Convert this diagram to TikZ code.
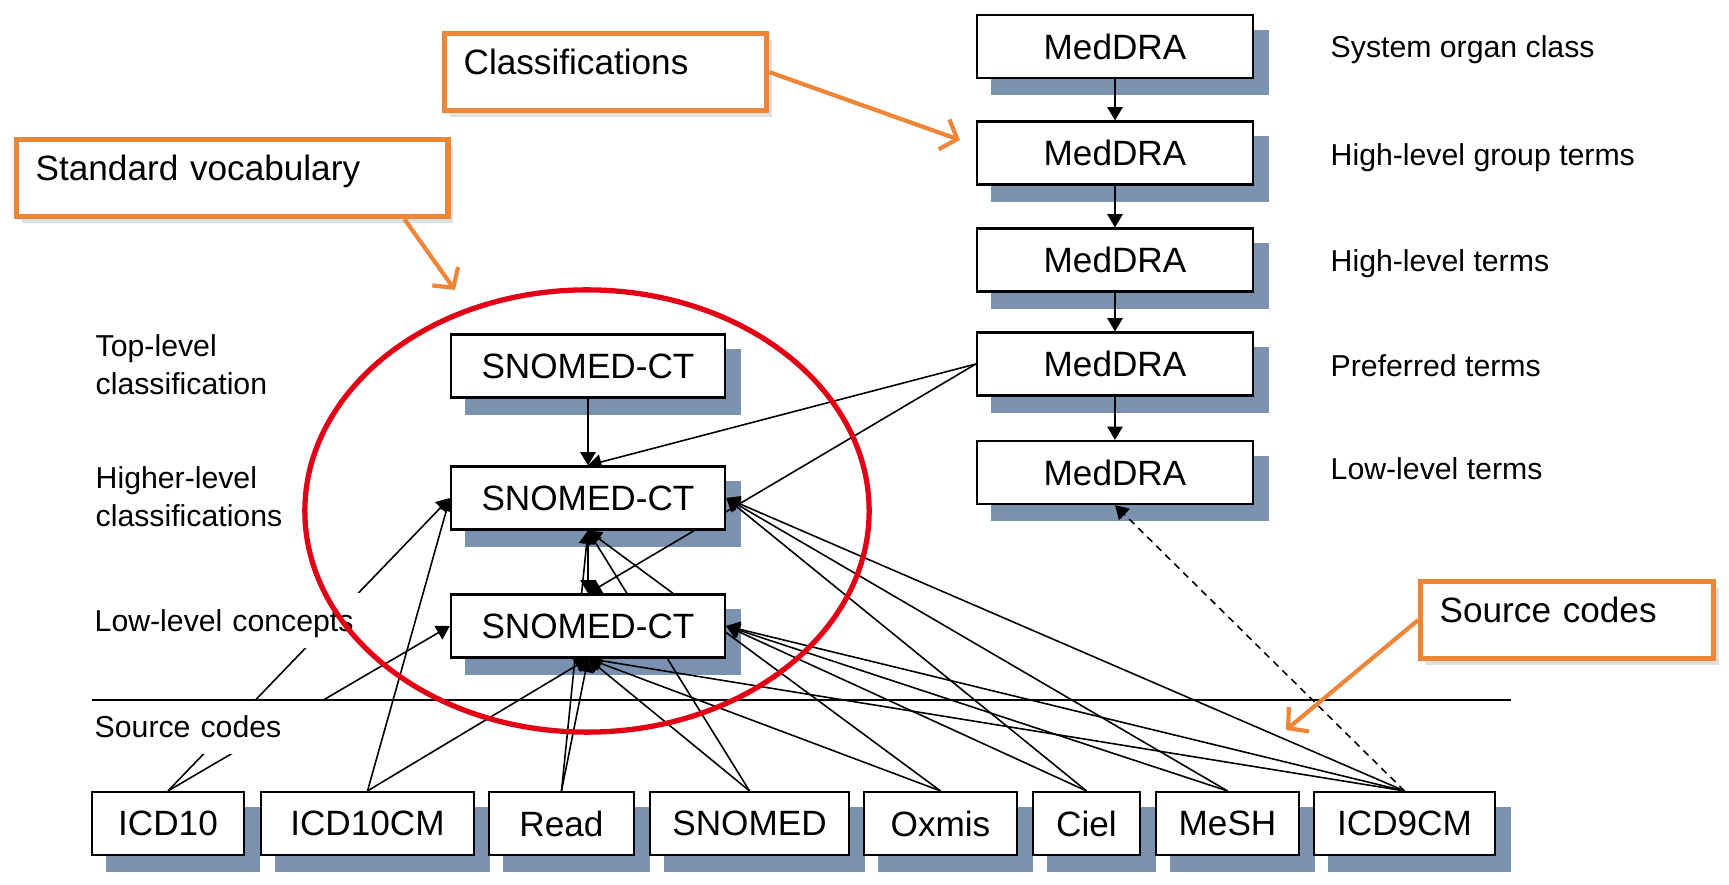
\documentclass[tikz,border=0pt]{standalone}
\usepackage{fontspec}
\setmainfont{Liberation Sans}
\usetikzlibrary{arrows.meta,shadows}
\definecolor{shadeC}{RGB}{122,145,175}
\definecolor{orangeC}{RGB}{239,133,54}
\definecolor{redC}{RGB}{228,0,20}
\pgfdeclarelayer{shade}
\pgfdeclarelayer{wires}
\pgfsetlayers{shade,wires,main}
\begin{document}
\begin{tikzpicture}[x=0.01cm,y=-0.01cm,
  box/.style={draw,line width=0.6pt,fill=white,inner sep=0pt,minimum height=0.63cm,font=\fontsize{10}{12}\selectfont},
  lab/.style={anchor=base west,align=left,inner sep=0pt,font=\fontsize{8.6}{10.9}\selectfont},
  mask/.style={fill=white,text height=0.38cm,text depth=0.17cm,text width=2.75cm},
  link/.style={line width=0.45pt,-{Triangle[length=3.8pt,width=4.4pt]}},
  callout/.style={draw=orangeC,line width=1.5pt,fill=white,anchor=north west,align=left,
    inner xsep=0.19cm,inner ysep=0.05cm,text height=0.36cm,text depth=0.31cm,
    font=\fontsize{10}{12}\selectfont,
    drop shadow={shadow xshift=0.05cm,shadow yshift=-0.06cm,opacity=0.25}},
  callarrow/.style={draw=orangeC,line width=1.2pt,-{Straight Barb[length=4pt,width=9pt]}}]
\useasboundingbox (0,0) rectangle (1729,885);

% MedDRA column
\foreach \i/\y in {1/46.5,2/153,3/260,4/364,5/472.5}
  \node[box,minimum width=2.76cm] (m\i) at (1115,\y) {MedDRA};
\foreach \i/\y/\t in {1/58/System organ class,2/166/High-level group terms,3/272/High-level terms,4/377/Preferred terms,5/479/Low-level terms}
  \node[lab] (r\i) at (1330,\y) {\t};

% SNOMED-CT column
\node[box,minimum width=2.74cm] (s1) at (588,366) {SNOMED-CT};
\node[box,minimum width=2.74cm] (s2) at (588,498) {SNOMED-CT};
\node[box,minimum width=2.74cm] (s3) at (588,626) {SNOMED-CT};

% levels on the left
\node[lab] (l1) at (95,395) {Top-level\\classification};
\node[lab] (l2) at (95,527) {Higher-level\\classifications};
\node[lab,mask] (l3) at (94,631) {Low-level concepts};
\node[lab,mask] (l4) at (94,737) {Source codes};

% source codes
\foreach \n/\t/\x/\w in {icd10/ICD10/168/1.52,icd10cm/ICD10CM/367.5/2.13,read/Read/561.5/1.45,snomed/SNOMED/749.5/1.99,oxmis/Oxmis/940.5/1.53,ciel/Ciel/1086.5/1.07,mesh/MeSH/1227.5/1.43,icd9cm/ICD9CM/1404.5/1.81}
  \node[box,minimum width=\w cm] (\n) at (\x,823.5) {\t};

% shadows
\begin{pgfonlayer}{shade}
\foreach \n in {m1,m2,m3,m4,m5,s1,s2,s3,icd10,icd10cm,read,snomed,oxmis,ciel,mesh,icd9cm}
  \fill[shadeC] ([xshift=0.15cm,yshift=-0.16cm]\n.south west) rectangle ([xshift=0.15cm,yshift=-0.16cm]\n.north east);
\end{pgfonlayer}

% links
\begin{pgfonlayer}{wires}
\foreach \i/\j in {1/2,2/3,3/4,4/5}
  \draw[link] (m\i.south) -- (m\j.north);
\draw[link] (s1.south) -- (s2.north);
\draw[link] (s2.south) -- (s3.north);
\draw[link] (m4.west) -- (s2.north);
\draw[link] (m4.west) -- (s3.north);
\foreach \a/\b in {icd10/s2.west,icd10/s3.west,icd10cm/s2.west,icd10cm/s3.south,read/s2.south,read/s3.south,snomed/s2.south,snomed/s3.south,oxmis/s2.south,oxmis/s3.south,ciel/s2.east,ciel/s3.east,mesh/s2.east,mesh/s3.east,icd9cm/s2.east,icd9cm/s3.east,icd9cm/s3.south}
  \draw[link] (\a.north) -- (\b);
\draw[link,dash pattern=on 2pt off 1.6pt] (icd9cm.north) -- (m5.south);
\end{pgfonlayer}

\draw[line width=0.45pt] (92,700) -- (1511,700);

% standard vocabulary ring
\draw[redC,line width=1.5pt] (587,511) ellipse [x radius=2.82cm,y radius=2.21cm];

% callouts
\node[callout,text width=2.84cm] (cls) at (442,31) {Classifications};
\node[callout,text width=3.93cm] (std) at (14,137) {Standard vocabulary};
\node[callout,text width=2.55cm] (src) at (1418,579) {Source codes};
\coordinate (clsTip) at (960,140);
\coordinate (stdTip) at (455,290);
\coordinate (srcTip) at (1286,730);
\draw[callarrow] (cls.east) -- (clsTip);
\draw[callarrow] ([xshift=-0.46cm]std.south east) -- (stdTip);
\draw[callarrow] (src.west) -- (srcTip);
\end{tikzpicture}
\end{document}
